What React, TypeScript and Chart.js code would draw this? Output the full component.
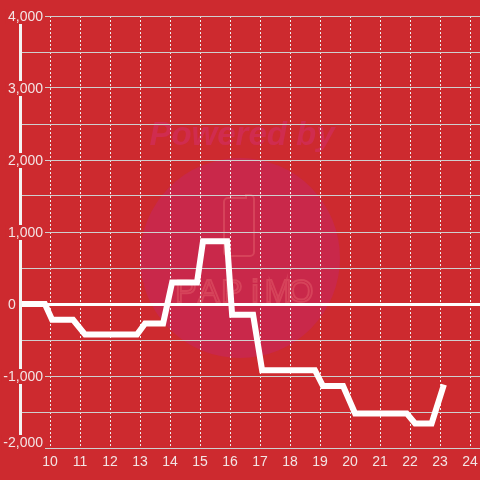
import React, { useEffect, useRef } from "react";
import { Chart, registerables } from "chart.js";

Chart.register(...registerables);

// Data (hour of day -> cumulative value)
const times = [9.0, 9.83, 10.07, 10.77, 11.17, 12.9, 13.17, 13.77, 14.07, 14.9, 15.1, 15.9, 16.07, 16.77, 17.07, 18.83, 19.1, 19.77, 20.17, 21.89, 22.17, 22.72, 23.1];
const values = [0, 0, -220, -220, -425, -425, -270, -270, 300, 300, 870, 870, -150, -150, -920, -920, -1140, -1140, -1520, -1520, -1660, -1660, -1160];
const xTickLabels = ["10", "11", "12", "13", "14", "15", "16", "17", "18", "19", "20", "21", "22", "23", "24"];
const yLabelValues = [-2000, -1000, 0, 1000, 2000, 3000, 4000];
const yTickLabels = ["-2,000", "-1,000", "0", "1,000", "2,000", "3,000", "4,000"];

const BG = "#cd2a2f";
const LABEL = "#f3e4e4";
const FONT = '"Liberation Sans", Arial, sans-serif';

const backgroundPlugin = {
  id: "bgWatermark",
  beforeDraw(chart: any) {
    const { ctx, width, height } = chart;
    ctx.save();
    ctx.fillStyle = BG;
    ctx.fillRect(0, 0, width, height);
    // watermark circle
    ctx.fillStyle = "#c9284a";
    ctx.beginPath();
    ctx.arc(240, 258, 100, 0, Math.PI * 2);
    ctx.fill();
    // "Powered by"
    ctx.fillStyle = "#d02c4f";
    ctx.font = `italic bold 33px ${FONT}`;
    ctx.textAlign = "center";
    ctx.textBaseline = "alphabetic";
    ctx.fillText("Powered by", 242, 145);
    // phone outline
    ctx.strokeStyle = "#d6435a";
    ctx.lineWidth = 2;
    ctx.beginPath();
    const px = 224, py = 198, pw = 30, ph = 58, r = 4;
    ctx.moveTo(px + r, py);
    ctx.lineTo(px + pw - 8, py);
    ctx.lineTo(px + pw - 8, py - 3);
    ctx.arcTo(px + pw, py - 3, px + pw, py + r, r);
    ctx.lineTo(px + pw, py + ph - r);
    ctx.arcTo(px + pw, py + ph, px + pw - r, py + ph, r);
    ctx.lineTo(px + r, py + ph);
    ctx.arcTo(px, py + ph, px, py + ph - r, r);
    ctx.lineTo(px, py + r);
    ctx.arcTo(px, py, px + r, py, r);
    ctx.stroke();
    // PAPIMO
    ctx.font = `32px ${FONT}`;
    ctx.lineWidth = 2;
    const letters = "PAPiMO".split("");
    letters.forEach((ch, i) => {
      ctx.strokeText(ch, 186 + i * 23, 302);
    });
    ctx.restore();
  },
};

const yAxisPlugin = {
  id: "yAxisOverlay",
  afterDatasetsDraw(chart: any) {
    const { ctx, chartArea, scales } = chart;
    const y = scales.y;
    ctx.save();
    ctx.strokeStyle = "#f4f4f4";
    ctx.lineWidth = 3;
    ctx.beginPath();
    ctx.moveTo(chartArea.left + 0.5, chartArea.top);
    ctx.lineTo(chartArea.left + 0.5, chartArea.bottom);
    ctx.stroke();

    ctx.font = `14px ${FONT}`;
    ctx.textBaseline = "middle";
    ctx.textAlign = "left";
    yLabelValues.forEach((v, i) => {
      let py = y.getPixelForValue(v);
      if (v === y.min) py -= 6;
      const text = yTickLabels[i];
      const w = ctx.measureText(text).width;
      const left = v === 0 ? 8 : 43 - w;
      ctx.fillStyle = BG;
      ctx.fillRect(left - 2, py - 7, w + 4, 15);
      ctx.fillStyle = LABEL;
      ctx.fillText(text, left, py + 1);
    });
    ctx.restore();
  },
};

export default function App() {
  const canvasRef = useRef<HTMLCanvasElement | null>(null);

  useEffect(() => {
    document.body.style.margin = "0";
    document.body.style.background = BG;
    const canvas = canvasRef.current;
    if (!canvas) return;
    const points = times.map((t, i) => ({ x: t, y: values[i] }));
    const chart = new Chart(canvas, {
      type: "line",
      data: {
        datasets: [
          {
            data: points,
            borderColor: "#ffffff",
            borderWidth: 6,
            borderCapStyle: "square",
            borderJoinStyle: "miter",
            pointRadius: 0,
            tension: 0,
            fill: false,
          },
        ],
      },
      options: {
        animation: false,
        responsive: false,
        devicePixelRatio: 1,
        layout: { padding: { left: 20, top: 16, right: 0, bottom: 0 } },
        plugins: { legend: { display: false }, tooltip: { enabled: false } },
        scales: {
          x: {
            type: "linear",
            min: 9,
            max: 24.333,
            ticks: {
              stepSize: 1,
              includeBounds: false,
              autoSkip: false,
              maxRotation: 0,
              padding: 6,
              color: LABEL,
              font: { size: 14, family: FONT },
              callback: (v: any) => {
                const idx = Number(v) - 10;
                return Number.isInteger(idx) && idx >= 0 && idx < xTickLabels.length ? xTickLabels[idx] : "";
              },
            },
            grid: { color: "#eeeeee", lineWidth: 1, drawTicks: false },
            border: { display: false, dash: [2, 2] },
            afterFit: (s: any) => {
              s.height = 32;
              s.paddingLeft = 0;
              s.paddingRight = 0;
            },
          },
          y: {
            type: "linear",
            min: -2000,
            max: 4000,
            ticks: { stepSize: 500, display: false },
            grid: {
              drawTicks: false,
              color: (c: any) => (c.tick && c.tick.value === 0 ? "#ffffff" : "#cfcfcf"),
              lineWidth: (c: any) => (c.tick && c.tick.value === 0 ? 3 : 1),
            },
            border: { display: false },
            afterFit: (s: any) => {
              s.width = 0;
              s.paddingTop = 0;
              s.paddingBottom = 0;
            },
          },
        },
      },
      plugins: [backgroundPlugin, yAxisPlugin],
    } as any);
    return () => chart.destroy();
  }, []);

  return (
    <div style={{ position: "absolute", left: 0, top: 0, width: 480, height: 480 }}>
      <canvas ref={canvasRef} width={480} height={480} />
    </div>
  );
}
